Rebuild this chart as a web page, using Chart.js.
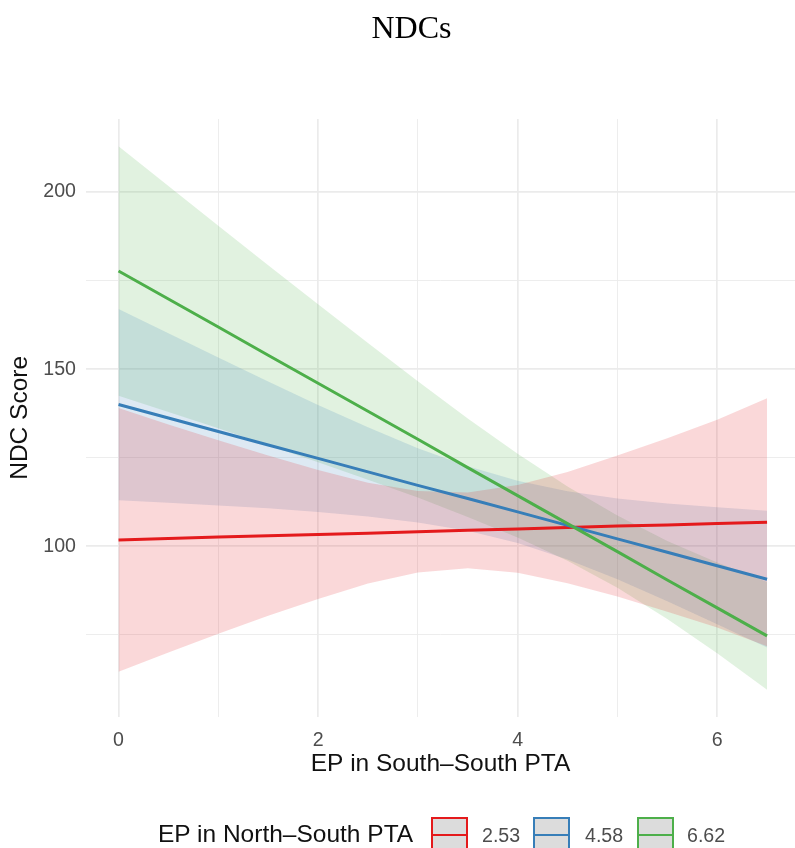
<!DOCTYPE html>
<html>
<head>
<meta charset="utf-8">
<script src="https://cdn.jsdelivr.net/npm/chart.js@4.4.0/dist/chart.umd.min.js"></script>
<style>
  html, body { margin: 0; padding: 0; background: #fff; overflow: hidden; }
  #wrap { position: relative; width: 795px; height: 848px; }
  #chart { position: absolute; left: 0; top: 0; }
  #title { position: absolute; left: 331px; width: 161px; top: 9px; text-align: center;
           font-family: "Liberation Serif", "Times New Roman", serif; font-size: 32px; color: #000; }
  .lg { position: absolute; font-family: "Liberation Sans", Arial, sans-serif; white-space: nowrap; }
  .key { position: absolute; box-sizing: border-box; width: 37px; height: 36px; top: 817px;
         background: #dcdcdc; border: 2.5px solid; }
  .key span { position: absolute; left: 0; right: 0; top: 14.5px; height: 2.6px; }
</style>
</head>
<body>
<div id="wrap">
  <canvas id="chart" width="795" height="848"></canvas>
  <div id="title">NDCs</div>
  <div id="legend"></div>
</div>
<script>
// x positions where the fitted lines and bands were read
const xVals = [0, 0.5, 1, 1.5, 2, 2.5, 3, 3.5, 4, 4.5, 5, 5.5, 6, 6.5];

// EP in North-South PTA = 2.53
const redFit   = [101.8, 102.2, 102.6, 103.0, 103.3, 103.7, 104.1, 104.5, 104.9, 105.3, 105.7, 106.0, 106.4, 106.8];
const redUpper = [139.0, 134.4, 129.9, 125.6, 121.5, 117.9, 115.6, 115.2, 117.3, 121.0, 125.6, 130.5, 135.7, 141.8];
const redLower = [64.6, 70.0, 75.3, 80.4, 85.1, 89.5, 92.6, 93.8, 92.5, 89.6, 85.8, 81.5, 77.1, 71.8];

// EP in North-South PTA = 4.58
const blueFit   = [140.0, 136.2, 132.4, 128.6, 124.8, 121.0, 117.2, 113.5, 109.7, 105.9, 102.1, 98.3, 94.5, 90.7];
const blueUpper = [167.0, 160.1, 153.3, 146.5, 139.9, 133.6, 127.7, 122.6, 118.5, 115.5, 113.5, 112.1, 111.0, 110.0];
const blueLower = [113.0, 112.3, 111.5, 110.7, 109.7, 108.4, 106.7, 104.4, 100.9, 96.3, 90.7, 84.5, 78.0, 71.4];

// EP in North-South PTA = 6.62
const greenFit   = [177.7, 169.8, 161.9, 153.9, 146.0, 138.1, 130.2, 122.2, 114.3, 106.4, 98.5, 90.5, 82.6, 74.7];
const greenUpper = [212.9, 201.7, 190.5, 179.3, 168.3, 157.4, 146.6, 136.1, 126.1, 116.9, 108.7, 101.5, 95.4, 89.9];
const greenLower = [142.5, 137.9, 133.3, 128.5, 123.7, 118.8, 113.8, 108.3, 102.5, 95.9, 88.3, 79.5, 69.8, 59.5];

const groupLabels = ["2.53", "4.58", "6.62"];
const groupColors = ["#E41A1C", "#377EB8", "#4DAF4A"];
const bandColors = ["rgba(228,26,28,0.17)", "rgba(55,126,184,0.17)", "rgba(77,175,74,0.17)"];

const pts = arr => arr.map((y, i) => ({ x: xVals[i], y: y }));

const fitLine = (arr, color) => ({
  data: pts(arr), borderColor: color, borderWidth: 3, pointRadius: 0, fill: false, tension: 0
});
const bandEdge = (arr, bg, fill) => ({
  data: pts(arr), borderWidth: 0, borderColor: "rgba(0,0,0,0)", backgroundColor: bg,
  pointRadius: 0, fill: fill, tension: 0
});

const tickFont = { family: "Liberation Sans", size: 19.6 };
const titleFont = { family: "Liberation Sans", size: 24.5 };

new Chart(document.getElementById("chart"), {
  type: "line",
  data: {
    datasets: [
      fitLine(greenFit, groupColors[2]),
      fitLine(blueFit, groupColors[1]),
      fitLine(redFit, groupColors[0]),
      bandEdge(redUpper, bandColors[0], "+1"),
      bandEdge(redLower, bandColors[0], false),
      bandEdge(blueUpper, bandColors[1], "+1"),
      bandEdge(blueLower, bandColors[1], false),
      bandEdge(greenUpper, bandColors[2], "+1"),
      bandEdge(greenLower, bandColors[2], false),
    ],
  },
  options: {
    responsive: false,
    animation: false,
    layout: { padding: { left: 0, right: 0, top: 119, bottom: 61.3 } },
    plugins: {
      legend: { display: false },
      title: { display: false },
      tooltip: { enabled: false },
      filler: { drawTime: "beforeDatasetsDraw" },
    },
    scales: {
      x: {
        type: "linear",
        min: -0.326,
        max: 6.78,
        border: { display: false },
        grid: {
          drawTicks: false,
          color: "#EBEBEB",
          lineWidth: ctx => (ctx.tick && ctx.tick.value % 2 === 0 ? 1.7 : 0.9),
        },
        ticks: {
          stepSize: 1,
          includeBounds: false,
          autoSkip: false,
          maxRotation: 0,
          padding: 12,
          color: "#4D4D4D",
          font: tickFont,
          callback: v => (v % 2 === 0 ? v : ""),
        },
        title: {
          display: true,
          text: "EP in South–South PTA",
          color: "#111",
          font: titleFont,
          padding: { top: 0, bottom: 8 },
        },
        afterFit: s => { s.height = 70; },
      },
      y: {
        min: 51.9,
        max: 220.6,
        border: { display: false },
        grid: {
          drawTicks: false,
          color: "#EBEBEB",
          lineWidth: ctx => (ctx.tick && ctx.tick.value % 50 === 0 ? 1.7 : 0.9),
        },
        ticks: {
          stepSize: 25,
          includeBounds: false,
          autoSkip: false,
          padding: 10,
          color: "#4D4D4D",
          font: tickFont,
          callback: v => (v % 50 === 0 ? v : ""),
        },
        title: {
          display: true,
          text: "NDC Score",
          color: "#111",
          font: titleFont,
          padding: { top: 6, bottom: 0 },
        },
        afterFit: s => { s.width = 86; },
      },
    },
  },
});

// legend along the bottom, like the ggplot guide
const legend = document.getElementById("legend");
const lgTitle = document.createElement("div");
lgTitle.className = "lg";
lgTitle.style.cssText = "left:158px;top:820px;font-size:24.5px;color:#111;";
lgTitle.textContent = "EP in North–South PTA";
legend.appendChild(lgTitle);

const keyLeft = [431, 533, 637];
const textLeft = [482, 585, 687];
groupLabels.forEach((lab, i) => {
  const key = document.createElement("div");
  key.className = "key";
  key.style.left = keyLeft[i] + "px";
  key.style.borderColor = groupColors[i];
  const mid = document.createElement("span");
  mid.style.background = groupColors[i];
  key.appendChild(mid);
  legend.appendChild(key);

  const txt = document.createElement("div");
  txt.className = "lg";
  txt.style.cssText = "left:" + textLeft[i] + "px;top:824px;font-size:19.6px;color:#4D4D4D;";
  txt.textContent = lab;
  legend.appendChild(txt);
});
</script>
</body>
</html>
